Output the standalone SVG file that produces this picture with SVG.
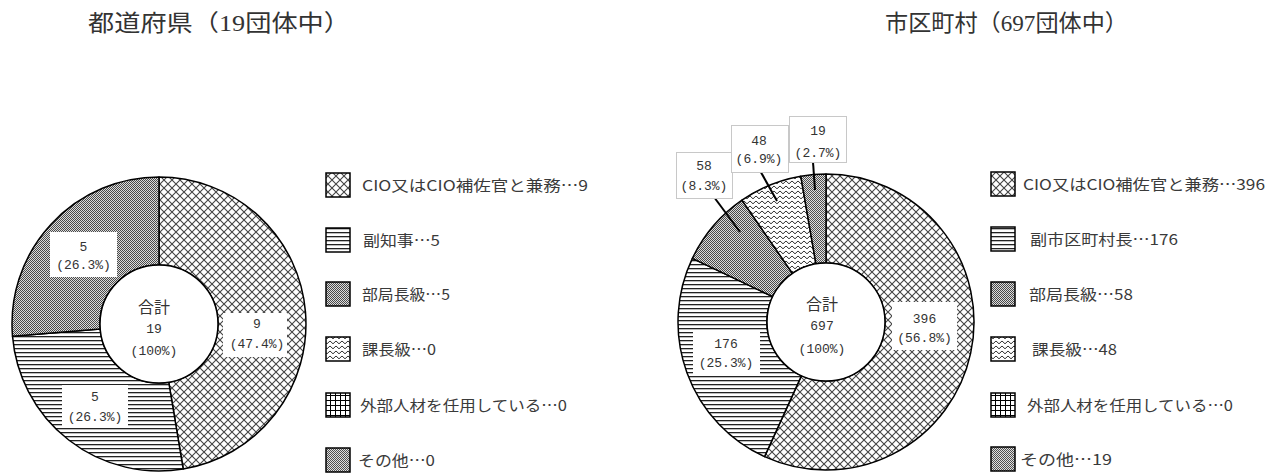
<svg xmlns="http://www.w3.org/2000/svg" width="1286" height="474" viewBox="0 0 1286 474">
<style>
.title{font-family:"Liberation Serif","Noto Sans CJK JP",serif;font-size:23px;fill:#333}
.leg{font-family:"Noto Sans CJK JP","Noto Sans",sans-serif;font-size:15px;fill:#3a3a3a}
.lbl{font-family:"Liberation Mono","Noto Sans CJK JP",monospace;font-size:13px;fill:#333;text-anchor:middle}
.ctr{font-family:"Liberation Mono","Noto Sans CJK JP",monospace;font-size:13px;fill:#333;text-anchor:middle}
.ctrj{font-family:"Noto Sans CJK JP",sans-serif;font-size:16px;fill:#333;text-anchor:middle}
.slice{stroke:#000;stroke-width:1.5;stroke-linejoin:round}
.hole{fill:#fff;stroke:#000;stroke-width:1.5}
.box{fill:#fff;stroke:none}
.cbox{fill:#fff;stroke:#c8c8c8;stroke-width:1}
.lead{stroke:#000;stroke-width:2;fill:none}
.lbox{stroke:#000;stroke-width:1.5}
</style>
<defs>
<pattern id="pCross" width="8" height="8" patternUnits="userSpaceOnUse">
<rect width="8" height="8" fill="#fff"/>
<path d="M0,0 L8,8 M8,0 L0,8" stroke="#444" stroke-width="1.1"/>
</pattern>
<pattern id="pHoriz" width="4" height="4" patternUnits="userSpaceOnUse">
<rect width="4" height="4" fill="#fff"/>
<rect y="0" width="4" height="1.3" fill="#222"/>
</pattern>
<pattern id="pDots" width="2" height="2" patternUnits="userSpaceOnUse">
<rect width="2" height="2" fill="#dcdcdc"/>
<rect width="1" height="1" fill="#4a4a4a"/>
<rect x="1" y="1" width="1" height="1" fill="#4a4a4a"/>
</pattern>
<pattern id="pWave" width="6" height="5" patternUnits="userSpaceOnUse">
<rect width="6" height="5" fill="#fff"/>
<path d="M0,1 L3,3.8 L6,1" stroke="#333" stroke-width="1" fill="none"/>
</pattern>
<pattern id="pGrid" width="5" height="5" patternUnits="userSpaceOnUse">
<rect width="5" height="5" fill="#fff"/>
<path d="M0,0 H5 M0,0 V5" stroke="#000" stroke-width="2"/>
</pattern>
<pattern id="pOther" width="2" height="2" patternUnits="userSpaceOnUse">
<rect width="2" height="2" fill="#e0e0e0"/>
<rect width="1" height="1" fill="#505050"/>
<rect x="1" y="1" width="1" height="1" fill="#505050"/>
</pattern>
</defs>

<g id="titles">
<text class="title" x="88" y="31" textLength="262" lengthAdjust="spacingAndGlyphs">都道府県（19団体中）</text>
<text class="title" x="885" y="31" textLength="243" lengthAdjust="spacingAndGlyphs">市区町村（697団体中）</text>
</g>

<g id="pref-donut">
<g id="pref-cio"><path class="slice" fill="url(#pCross)" d="M159,177 A147,147 0 0 1 183.19,468.99 L168.71,382.20 A59,59 0 0 0 159,265 Z"/></g>
<g id="pref-vice"><path class="slice" fill="url(#pHoriz)" d="M183.19,468.99 A147,147 0 0 1 12.50,336.15 L100.20,328.88 A59,59 0 0 0 168.71,382.20 Z"/></g>
<g id="pref-dept"><path class="slice" fill="url(#pDots)" d="M12.50,336.15 A147,147 0 0 1 159,177 L159,265 A59,59 0 0 0 100.20,328.88 Z"/></g>
<circle class="hole" cx="159" cy="324" r="59"/>
<g id="pref-total">
<text class="ctrj" x="154" y="313">合計</text>
<text class="ctr" x="154" y="333">19</text>
<text class="ctr" x="154" y="355">(100%)</text>
</g>
<g id="pref-lbl-dept"><rect class="box" x="50" y="232" width="67" height="45"/><text class="lbl" x="83.5" y="251">5</text><text class="lbl" x="83.5" y="269">(26.3%)</text></g>
<g id="pref-lbl-cio"><rect class="box" x="223" y="313" width="64" height="44"/><text class="lbl" x="257" y="328">9</text><text class="lbl" x="257" y="348">(47.4%)</text></g>
<g id="pref-lbl-vice"><rect class="box" x="62" y="385" width="66" height="43"/><text class="lbl" x="95" y="401">5</text><text class="lbl" x="95" y="421">(26.3%)</text></g>
</g>

<g id="muni-donut">
<g id="muni-cio"><path class="slice" fill="url(#pCross)" d="M826,174 A148,148 0 1 1 764.55,456.64 L801.50,375.67 A59,59 0 1 0 826,263 Z"/></g>
<g id="muni-vice"><path class="slice" fill="url(#pHoriz)" d="M764.55,456.64 A148,148 0 0 1 692.36,258.42 L772.72,296.65 A59,59 0 0 0 801.50,375.67 Z"/></g>
<g id="muni-dept"><path class="slice" fill="url(#pDots)" d="M692.36,258.42 A148,148 0 0 1 741.94,200.19 L792.49,273.44 A59,59 0 0 0 772.72,296.65 Z"/></g>
<g id="muni-sect"><path class="slice" fill="url(#pWave)" d="M741.94,200.19 A148,148 0 0 1 800.78,176.17 L815.95,263.86 A59,59 0 0 0 792.49,273.44 Z"/></g>
<g id="muni-other"><path class="slice" fill="url(#pOther)" d="M800.78,176.17 A148,148 0 0 1 826,174 L826,263 A59,59 0 0 0 815.95,263.86 Z"/></g>
<circle class="hole" cx="826" cy="322" r="59"/>
<g id="muni-total">
<text class="ctrj" x="822" y="310">合計</text>
<text class="ctr" x="822" y="330">697</text>
<text class="ctr" x="822" y="353">(100%)</text>
</g>
<g id="muni-lbl-cio"><rect class="box" x="892" y="302" width="65" height="48"/><text class="lbl" x="924.5" y="323">396</text><text class="lbl" x="924.5" y="342">(56.8%)</text></g>
<g id="muni-lbl-vice"><rect class="box" x="693" y="330" width="67" height="45"/><text class="lbl" x="726" y="348">176</text><text class="lbl" x="726" y="367">(25.3%)</text></g>
</g>

<g id="connectors">
<line class="lead" x1="711" y1="193" x2="740" y2="232"/>
<line class="lead" x1="758" y1="167" x2="777" y2="201"/>
<line class="lead" x1="813" y1="162" x2="815" y2="190"/>
</g>

<g id="muni-lbl-dept"><rect class="cbox" x="676.5" y="152.5" width="56" height="46"/><text class="lbl" x="704" y="170">58</text><text class="lbl" x="704" y="190">(8.3%)</text></g>
<g id="muni-lbl-sect"><rect class="cbox" x="731.5" y="125.5" width="57" height="47"/><text class="lbl" x="759" y="145">48</text><text class="lbl" x="759" y="163">(6.9%)</text></g>
<g id="muni-lbl-other"><rect class="cbox" x="789.5" y="116.5" width="57" height="46"/><text class="lbl" x="818" y="135">19</text><text class="lbl" x="818" y="157">(2.7%)</text></g>

<g id="pref-legend">
<g id="pl1"><rect class="lbox" fill="url(#pCross)" x="326" y="173" width="24" height="24"/><text class="leg" x="362" y="191" textLength="226" lengthAdjust="spacingAndGlyphs">CIO又はCIO補佐官と兼務…9</text></g>
<g id="pl2"><rect class="lbox" fill="url(#pHoriz)" x="326" y="228" width="24" height="24"/><text class="leg" x="363" y="246" textLength="77" lengthAdjust="spacingAndGlyphs">副知事…5</text></g>
<g id="pl3"><rect class="lbox" fill="url(#pDots)" x="326" y="282" width="24" height="24"/><text class="leg" x="362" y="300" textLength="88" lengthAdjust="spacingAndGlyphs">部局長級…5</text></g>
<g id="pl4"><rect class="lbox" fill="url(#pWave)" x="326" y="337" width="24" height="24"/><text class="leg" x="362" y="355" textLength="74" lengthAdjust="spacingAndGlyphs">課長級…0</text></g>
<g id="pl5"><rect class="lbox" fill="url(#pGrid)" x="326" y="393" width="24" height="24"/><text class="leg" x="360" y="411" textLength="207" lengthAdjust="spacingAndGlyphs">外部人材を任用している…0</text></g>
<g id="pl6"><rect class="lbox" fill="url(#pOther)" x="326" y="448" width="24" height="24"/><text class="leg" x="358" y="466" textLength="77" lengthAdjust="spacingAndGlyphs">その他…0</text></g>
</g>

<g id="muni-legend">
<g id="ml1"><rect class="lbox" fill="url(#pCross)" x="991" y="172" width="24" height="24"/><text class="leg" x="1023" y="190" textLength="242" lengthAdjust="spacingAndGlyphs">CIO又はCIO補佐官と兼務…396</text></g>
<g id="ml2"><rect class="lbox" fill="url(#pHoriz)" x="991" y="227" width="24" height="24"/><text class="leg" x="1030" y="245" textLength="148" lengthAdjust="spacingAndGlyphs">副市区町村長…176</text></g>
<g id="ml3"><rect class="lbox" fill="url(#pDots)" x="991" y="282" width="24" height="24"/><text class="leg" x="1029" y="300" textLength="104" lengthAdjust="spacingAndGlyphs">部局長級…58</text></g>
<g id="ml4"><rect class="lbox" fill="url(#pWave)" x="991" y="337" width="24" height="24"/><text class="leg" x="1032" y="355" textLength="85" lengthAdjust="spacingAndGlyphs">課長級…48</text></g>
<g id="ml5"><rect class="lbox" fill="url(#pGrid)" x="991" y="393" width="24" height="24"/><text class="leg" x="1027" y="411" textLength="206" lengthAdjust="spacingAndGlyphs">外部人材を任用している…0</text></g>
<g id="ml6"><rect class="lbox" fill="url(#pOther)" x="991" y="447" width="24" height="24"/><text class="leg" x="1020" y="465" textLength="92" lengthAdjust="spacingAndGlyphs">その他…19</text></g>
</g>
</svg>
